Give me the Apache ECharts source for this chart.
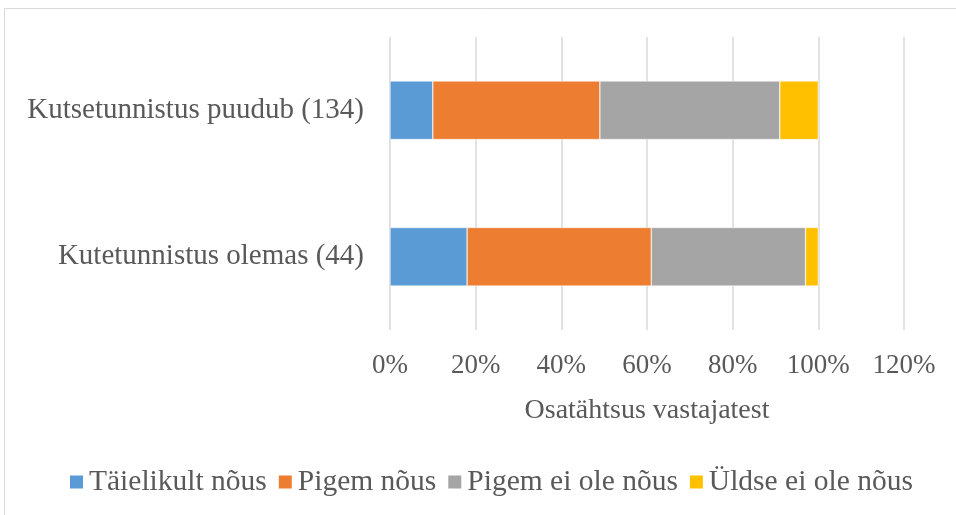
<!DOCTYPE html>
<html>
<head>
<meta charset="utf-8">
<script src="https://cdn.jsdelivr.net/npm/echarts@6/dist/echarts.min.js"></script>
<style>
  html, body { margin: 0; padding: 0; background: #fff; }
  #chart { width: 956px; height: 515px; }
</style>
</head>
<body>
<div id="chart"></div>
<script>
  // andmed (protsendid)
  let categories = ['Kutsetunnistus puudub (134)', 'Kutetunnistus olemas (44)'];
  let seriesNames = ['Täielikult nõus', 'Pigem nõus', 'Pigem ei ole nõus', 'Üldse ei ole nõus'];
  let taielikult = [10, 18];
  let pigemNous = [39, 43];
  let pigemEi = [42, 36];
  let uldseEi = [9, 3];
  let colors = ['#5B9BD5', '#ED7D31', '#A5A5A5', '#FFC000'];

  let values = [taielikult, pigemNous, pigemEi, uldseEi];
  let textColor = '#595959';
  let font = 'Liberation Serif';

  let chart = echarts.init(document.getElementById('chart'));

  let series = [];
  for (let i = 0; i < seriesNames.length; i++) {
    series.push({
      name: seriesNames[i],
      type: 'bar',
      stack: 'kokku',
      barWidth: '40%',
      data: values[i],
      itemStyle: {
        color: colors[i],
        borderColor: '#ffffff',
        borderWidth: 0.5
      }
    });
  }

  let options = {
    backgroundColor: '#ffffff',
    color: colors,
    animation: false,
    graphic: [{
      type: 'rect',
      shape: { x: 4.5, y: 8.5, width: 1000, height: 600 },
      style: { fill: 'none', stroke: '#d9d9d9', lineWidth: 1 },
      silent: true
    }],
    legend: {
      data: seriesNames,
      bottom: 13,
      left: 63,
      icon: 'rect',
      itemWidth: 15,
      itemHeight: 15,
      itemGap: 10,
      textStyle: {
        fontFamily: font,
        fontSize: 29.5,
        color: textColor,
        padding: [0, 0, 0, 0]
      }
    },
    grid: {
      left: 390,
      right: 52,
      top: 37,
      bottom: 185
    },
    xAxis: {
      type: 'value',
      min: 0,
      max: 120,
      interval: 20,
      name: 'Osatähtsus vastajatest',
      nameLocation: 'middle',
      nameGap: 67,
      nameTextStyle: {
        fontFamily: font,
        fontSize: 28,
        color: textColor
      },
      axisLine: { show: false },
      axisTick: { show: false },
      axisLabel: {
        margin: 22,
        fontFamily: font,
        fontSize: 27,
        color: textColor,
        formatter: '{value}%'
      },
      splitLine: {
        lineStyle: { color: '#d9d9d9', width: 1.5 }
      }
    },
    yAxis: {
      type: 'category',
      inverse: true,
      data: categories,
      axisLine: { show: false },
      axisTick: { show: false },
      axisLabel: {
        margin: 26,
        fontFamily: font,
        fontSize: 29,
        color: textColor
      }
    },
    series: series
  };

  chart.setOption(options);
</script>
</body>
</html>
